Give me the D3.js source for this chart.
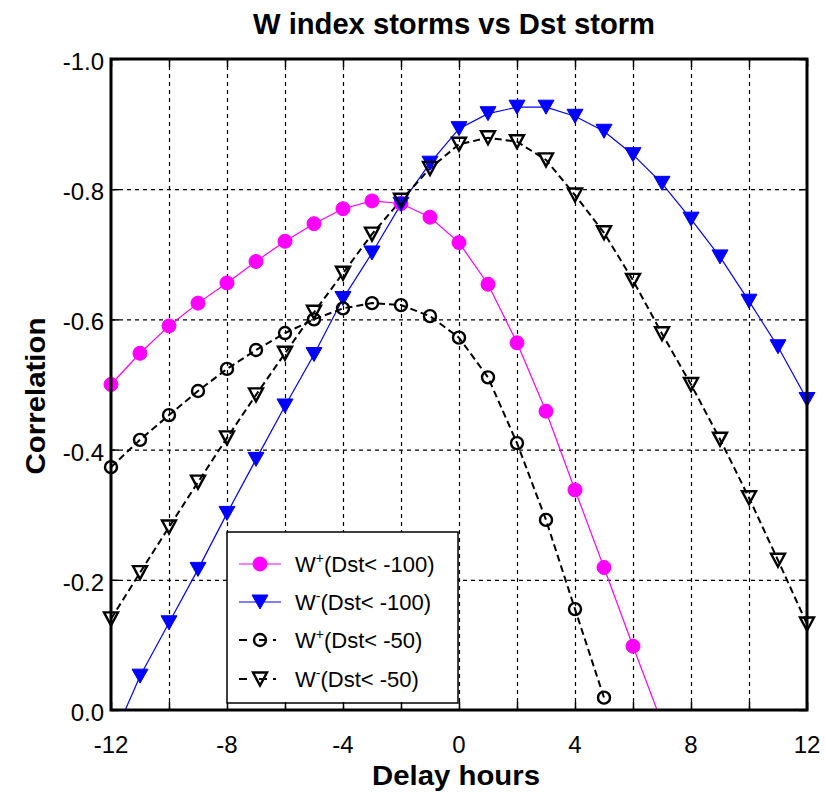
<!DOCTYPE html>
<html>
<head>
<meta charset="utf-8">
<script src="https://cdn.jsdelivr.net/npm/d3@7"></script>
<style>
    body { margin: 0; background: #fff; }
    svg { display: block; font-family: "Liberation Sans", Arial, sans-serif; }
</style>
</head>
<body>
<div id="chart"></div>
<script>
// hours of delay
const hours = [-12, -11, -10, -9, -8, -7, -6, -5, -4, -3, -2, -1, 0, 1, 2, 3, 4, 5, 6, 7, 8, 9, 10, 11, 12];

// correlation values (null = not plotted)
const wPlus100 = [-0.50, -0.548, -0.59, -0.625, -0.656, -0.689, -0.72, -0.747, -0.77, -0.782, -0.778, -0.757, -0.718, -0.654, -0.564, -0.459, -0.338, -0.219, -0.098, 0.02, null, null, null, null, null];
const wMinus100 = [0.05, -0.052, -0.134, -0.216, -0.302, -0.385, -0.467, -0.546, -0.632, -0.702, -0.777, -0.84, -0.893, -0.916, -0.926, -0.926, -0.912, -0.889, -0.853, -0.809, -0.754, -0.696, -0.628, -0.558, -0.477];
const wPlus50 = [-0.373, -0.415, -0.453, -0.49, -0.524, -0.553, -0.579, -0.6, -0.617, -0.625, -0.622, -0.605, -0.572, -0.511, -0.41, -0.292, -0.155, -0.019, null, null, null, null, null, null, null];
const wMinus50 = [-0.14, -0.211, -0.281, -0.35, -0.418, -0.484, -0.548, -0.611, -0.671, -0.731, -0.783, -0.832, -0.869, -0.879, -0.873, -0.845, -0.791, -0.733, -0.66, -0.578, -0.5, -0.416, -0.326, -0.23, -0.132];

const xTicks = [-12, -10, -8, -6, -4, -2, 0, 2, 4, 6, 8, 10, 12];
const xLabels = [-12, -8, -4, 0, 4, 8, 12];
const yTicks = [0, -0.2, -0.4, -0.6, -0.8, -1.0];

const titleText = 'W index storms vs Dst storm';
const xTitle = 'Delay hours';
const yTitle = 'Correlation';

const series = [
    {name: 'W', sup: '+', rest: '(Dst< -100)', values: wPlus100, color: '#ff00ff', marker: 'circle', filled: true, dash: null, width: 1.2},
    {name: 'W', sup: '-', rest: '(Dst< -100)', values: wMinus100, color: '#0000ff', marker: 'tri', filled: true, dash: null, width: 1.2},
    {name: 'W', sup: '+', rest: '(Dst< -50)', values: wPlus50, color: '#000', marker: 'circle', filled: false, dash: '7,4', width: 2},
    {name: 'W', sup: '-', rest: '(Dst< -50)', values: wMinus50, color: '#000', marker: 'tri', filled: false, dash: '7,4', width: 2}
];

const margin = {top: 59, right: 19, bottom: 84, left: 111};
const width = 826 - margin.left - margin.right;
const height = 794 - margin.top - margin.bottom;

const svg = d3.select('#chart').append('svg')
    .attr('width', 826)
    .attr('height', 794);

const g = svg.append('g')
    .attr('transform', `translate(${margin.left},${margin.top})`);

const x = d3.scaleLinear().domain([-12, 12]).range([0, width]);
const y = d3.scaleLinear().domain([0, -1]).range([height, 0]);

g.append('defs').append('clipPath')
    .attr('id', 'plot-clip')
    .append('rect')
    .attr('width', width)
    .attr('height', height);

// grid
const gridX = g.append('g')
    .attr('transform', `translate(0,${height})`)
    .call(d3.axisBottom(x).tickValues(xTicks.slice(1, -1)).tickSize(-height).tickFormat(''));
const gridY = g.append('g')
    .call(d3.axisLeft(y).tickValues(yTicks.slice(1, -1)).tickSize(-width).tickFormat(''));
[gridX, gridY].forEach(gr => {
    gr.select('.domain').remove();
    gr.selectAll('line')
        .attr('stroke', '#000')
        .attr('stroke-width', 1.2)
        .attr('stroke-dasharray', '4,4');
});

const triPath = (w, h) => `M${-w / 2},${-h / 2}L${w / 2},${-h / 2}L0,${h / 2}Z`;

function drawMarker(sel, s) {
    if (s.marker === 'circle') {
        sel.append('circle')
            .attr('r', s.filled ? 7 : 6)
            .attr('fill', s.filled ? s.color : 'none')
            .attr('stroke', s.color)
            .attr('stroke-width', s.filled ? 1 : 2.4);
    } else {
        sel.append('path')
            .attr('d', s.filled ? triPath(16, 14) : triPath(14, 13))
            .attr('fill', s.filled ? s.color : 'none')
            .attr('stroke', s.color)
            .attr('stroke-width', s.filled ? 1 : 2.4)
            .attr('stroke-linejoin', 'miter');
    }
}

// series: lines are clipped to the axes, markers only drawn inside the range
const lines = g.append('g').attr('clip-path', 'url(#plot-clip)');
const marks = g.append('g');

series.forEach(s => {
    const pts = hours.map((h, i) => ({h, v: s.values[i]})).filter(d => d.v !== null);

    const line = d3.line()
        .x(d => x(d.h))
        .y(d => y(d.v));

    lines.append('path')
        .datum(pts)
        .attr('d', line)
        .attr('fill', 'none')
        .attr('stroke', s.color)
        .attr('stroke-width', s.width)
        .attr('stroke-dasharray', s.dash);

    marks.selectAll(null)
        .data(pts.filter(d => d.v <= 0 && d.v >= -1))
        .enter().append('g')
        .attr('transform', d => `translate(${x(d.h)},${y(d.v)})`)
        .each(function () { drawMarker(d3.select(this), s); });
});

// legend
const legend = g.append('g')
    .attr('transform', `translate(${227 - margin.left},${532 - margin.top})`);

legend.append('rect')
    .attr('width', 231)
    .attr('height', 171)
    .attr('fill', '#fff')
    .attr('stroke', '#000')
    .attr('stroke-width', 1.5);

const rowY = [32, 70, 108, 147];
series.forEach((s, i) => {
    const row = legend.append('g').attr('transform', `translate(0,${rowY[i]})`);
    row.append('line')
        .attr('x1', 12)
        .attr('x2', 54)
        .attr('stroke', s.color)
        .attr('stroke-width', s.width)
        .attr('stroke-dasharray', s.dash ? '8,12,8,6,3' : null);
    drawMarker(row.append('g').attr('transform', 'translate(33,0)'), s);

    const t = row.append('text')
        .attr('x', 68)
        .attr('y', 8)
        .style('font-size', '22px');
    t.append('tspan').text(s.name);
    t.append('tspan')
        .attr('dy', -9)
        .style('font-size', '14px')
        .text(s.sup);
    t.append('tspan')
        .attr('dy', 9)
        .text(s.rest);
});

// frame ticks (inward, on all four sides)
const axes = [
    g.append('g').attr('transform', `translate(0,${height})`).call(d3.axisBottom(x).tickValues(xTicks).tickSize(-8).tickFormat('')),
    g.append('g').call(d3.axisTop(x).tickValues(xTicks).tickSize(-8).tickFormat('')),
    g.append('g').call(d3.axisLeft(y).tickValues(yTicks).tickSize(-8).tickFormat('')),
    g.append('g').attr('transform', `translate(${width},0)`).call(d3.axisRight(y).tickValues(yTicks).tickSize(-8).tickFormat(''))
];
axes.forEach(a => {
    a.select('.domain').remove();
    a.selectAll('line').attr('stroke', '#000').attr('stroke-width', 1.5);
});

g.append('rect')
    .attr('width', width)
    .attr('height', height)
    .attr('fill', 'none')
    .attr('stroke', '#000')
    .attr('stroke-width', 3);

// tick labels
g.selectAll('.xlab')
    .data(xLabels)
    .enter().append('text')
    .attr('class', 'xlab')
    .attr('x', d => x(d))
    .attr('y', height + 43)
    .attr('text-anchor', 'middle')
    .style('font-size', '24px')
    .text(d => String(d));

g.selectAll('.ylab')
    .data(yTicks)
    .enter().append('text')
    .attr('class', 'ylab')
    .attr('x', -7)
    .attr('y', d => y(d) + 11)
    .attr('text-anchor', 'end')
    .style('font-size', '24px')
    .text(d => d.toFixed(1));

// titles
svg.append('text')
    .attr('x', 454)
    .attr('y', 34)
    .attr('text-anchor', 'middle')
    .attr('textLength', 402)
    .attr('lengthAdjust', 'spacingAndGlyphs')
    .style('font-size', '30px')
    .style('font-weight', 'bold')
    .text(titleText);

svg.append('text')
    .attr('x', 456)
    .attr('y', 785)
    .attr('text-anchor', 'middle')
    .attr('textLength', 168)
    .attr('lengthAdjust', 'spacingAndGlyphs')
    .style('font-size', '28px')
    .style('font-weight', 'bold')
    .text(xTitle);

svg.append('text')
    .attr('transform', 'translate(45,396) rotate(-90)')
    .attr('text-anchor', 'middle')
    .attr('textLength', 157)
    .attr('lengthAdjust', 'spacingAndGlyphs')
    .style('font-size', '28px')
    .style('font-weight', 'bold')
    .text(yTitle);
</script>
</body>
</html>
